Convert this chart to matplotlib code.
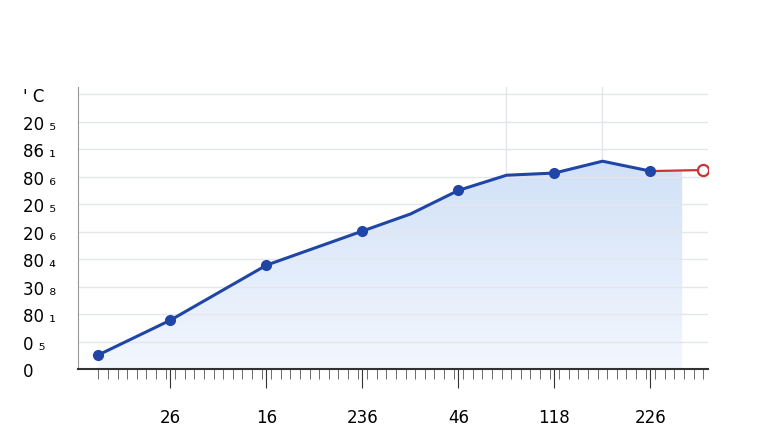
import numpy as np
import matplotlib
matplotlib.use("Agg")
import matplotlib.pyplot as plt
from matplotlib.patches import Polygon

# line points (x in label units, y in tick units)
line_x = [0.24, 1, 2, 3, 3.5, 4, 4.5, 5, 5.5, 6]
line_y = [0.5, 1.78, 3.78, 5.02, 5.64, 6.5, 7.05, 7.13, 7.56, 7.2]
marker_x = [0.24, 1, 2, 3, 4, 5, 6]
marker_y = [0.5, 1.78, 3.78, 5.02, 6.5, 7.13, 7.2]
red_x = [6, 6.55]
red_y = [7.2, 7.24]
fill_end = 6.33

x_labels = ["26", "16", "236", "46", "118", "226"]
y_labels = ["0", "0 \u2085", "80 \u2081", "30 \u2088", "80 \u2084", "20 \u2086",
            "20 \u2085", "80 \u2086", "86 \u2081", "20 \u2085", "' C"]

fig = plt.figure(figsize=(7.68, 4.39), dpi=100)
ax = fig.add_axes([0.102, 0.157, 0.82, 0.642])
ax.set_xlim(0.04, 6.6)
ax.set_ylim(0, 10.25)

# gradient fill under the curve
fx = line_x + [fill_end]
fy = line_y + [line_y[-1]]
grad = np.linspace(0.0, 1.0, 256).reshape(-1, 1)
cmap = matplotlib.colors.LinearSegmentedColormap.from_list("g", ["#f3f7fe", "#c5d9f5"])
im = ax.imshow(grad, extent=[0.04, 6.6, 0, 10.25], origin="lower", aspect="auto",
               cmap=cmap, zorder=1)
poly = Polygon(list(zip([fx[0]] + fx + [fill_end], [0] + fy + [0])), closed=True,
               facecolor="none", edgecolor="none")
ax.add_patch(poly)
im.set_clip_path(poly)

ax.plot(line_x, line_y, color="#1f45a6", lw=2.2, zorder=3)
ax.plot(marker_x, marker_y, "o", color="#1f45a6", ms=7, zorder=4)
ax.plot(red_x, red_y, color="#cc3333", lw=1.6, zorder=3)
ax.plot(red_x[-1], red_y[-1], "o", mfc="white", mec="#cc3333", mew=1.6, ms=8, zorder=4)

ax.set_yticks(range(len(y_labels)))
ax.set_yticklabels(y_labels, fontsize=12)
ax.set_xticks(range(1, len(x_labels) + 1))
ax.set_xticklabels(x_labels, fontsize=12)
ax.tick_params(axis="y", length=0, pad=6)
ax.tick_params(axis="x", which="major", length=14, pad=14, color="#333333")
ax.set_xticks(np.arange(0.25, 6.6, 0.1), minor=True)
ax.tick_params(axis="x", which="minor", length=7, color="#555555")
for t in ax.get_yticklabels():
    t.set_horizontalalignment("left")
    t.set_x(-0.075)

ax.grid(axis="y", color="#e3e6ea", lw=1)
for gx in [4.5, 5.5]:
    ax.axvline(gx, color="#e3e6ea", lw=1, zorder=0)
for s in ["top", "right"]:
    ax.spines[s].set_visible(False)
ax.spines["left"].set_color("#999999")
ax.spines["bottom"].set_color("#333333")
ax.spines["bottom"].set_linewidth(1.5)

fig.savefig("out.png", dpi=100)
